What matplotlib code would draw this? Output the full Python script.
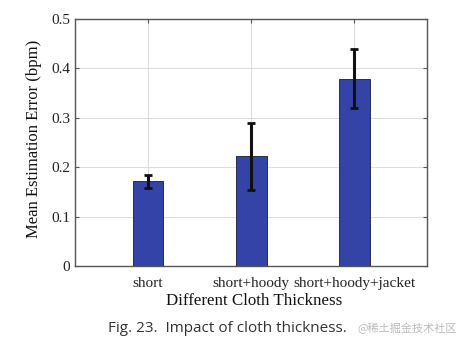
import matplotlib
matplotlib.use('Agg')
from matplotlib import pyplot as plt
import numpy as np

# data
categories = ['short', 'short+hoody', 'short+hoody+jacket']
mean_err = [0.172, 0.222, 0.379]
err_low = [0.014, 0.068, 0.060]
err_high = [0.012, 0.068, 0.060]

plt.rcParams['font.family'] = ['Liberation Serif', 'DejaVu Serif']

fig = plt.figure(figsize=(4.68, 3.45), dpi=100)
ax = fig.add_axes([0.160, 0.229, 0.753, 0.716])

x = np.arange(1, len(categories) + 1)
ax.bar(x, mean_err, 0.3, color='#3444a6', edgecolor='#1a1a3a', linewidth=0.6, zorder=3)
ax.errorbar(x, mean_err, yerr=[err_low, err_high], fmt='none', ecolor='#111111',
            elinewidth=2.2, capsize=3, capthick=2, zorder=4)

ax.set_xlim(0.29, 3.71)
ax.set_ylim(0, 0.5)
ax.set_yticks([0, 0.1, 0.2, 0.3, 0.4, 0.5])
ax.set_yticklabels(['0', '0.1', '0.2', '0.3', '0.4', '0.5'])
ax.set_xticks(x)
ax.set_xticklabels(categories)
ax.grid(True, color='#dddddd', linewidth=0.8, zorder=0)
ax.tick_params(direction='in', top=True, right=True, length=3, color='#555555',
               labelsize=11, labelcolor='#222222')
ax.tick_params(axis='x', pad=8)
for s in ax.spines.values():
    s.set_color('#555555')
    s.set_linewidth(1.0)

ax.set_ylabel('Mean Estimation Error (bpm)', fontsize=12, color='#111111')
ax.yaxis.set_label_coords(-0.093, 0.516)
ax.set_xlabel('Different Cloth Thickness', fontsize=12.2, color='#111111')
ax.xaxis.set_label_coords(0.51, -0.11)

fig.text(0.231, 0.049, 'Fig. 23.  Impact of cloth thickness.', fontsize=11,
         family=['Open Sans', 'DejaVu Sans'], color='#333333', va='center')
fig.text(0.976, 0.049, '@稀土掘金技术社区', fontsize=8,
         family=['Noto Sans CJK SC', 'DejaVu Sans'], color='#bbbbbb', va='center', ha='right')

plt.savefig('out.png', dpi=100)
